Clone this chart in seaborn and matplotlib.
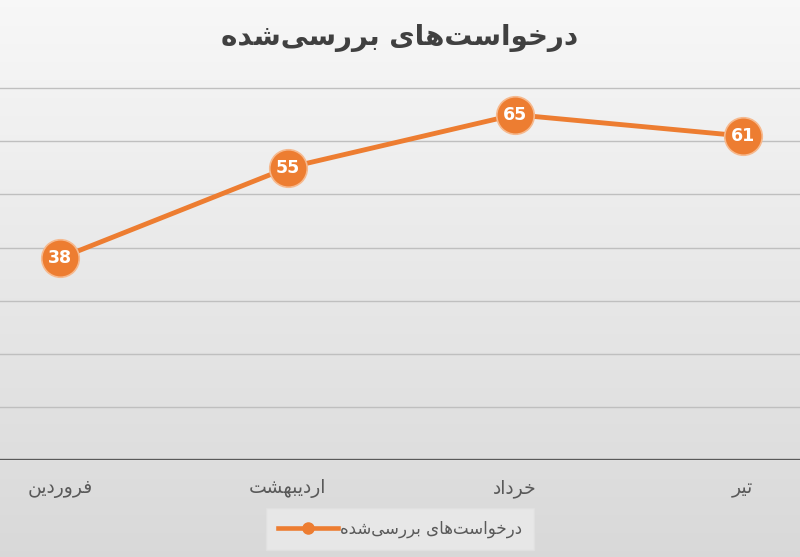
import numpy as np
import pandas as pd
import matplotlib
matplotlib.use("Agg")
import matplotlib.pyplot as plt
import seaborn as sns
from matplotlib.lines import Line2D

# ---- data ----
title_fa = "درخواست‌های بررسی‌شده"
series_name = "درخواست‌های بررسی‌شده"
months = ["فروردین", "اردیبهشت", "خرداد", "تیر"]
values = [38, 55, 65, 61]

# ---- minimal Persian shaping (presentation forms + visual order) ----
FORMS = {  # isolated, final, initial, medial
    "ا": ("\uFE8D", "\uFE8E", None, None),
    "ب": ("\uFE8F", "\uFE90", "\uFE91", "\uFE92"),
    "ت": ("\uFE95", "\uFE96", "\uFE97", "\uFE98"),
    "خ": ("\uFEA5", "\uFEA6", "\uFEA7", "\uFEA8"),
    "د": ("\uFEA9", "\uFEAA", None, None),
    "ر": ("\uFEAD", "\uFEAE", None, None),
    "س": ("\uFEB1", "\uFEB2", "\uFEB3", "\uFEB4"),
    "ش": ("\uFEB5", "\uFEB6", "\uFEB7", "\uFEB8"),
    "ف": ("\uFED1", "\uFED2", "\uFED3", "\uFED4"),
    "ن": ("\uFEE5", "\uFEE6", "\uFEE7", "\uFEE8"),
    "ه": ("\uFEE9", "\uFEEA", "\uFEEB", "\uFEEC"),
    "و": ("\uFEED", "\uFEEE", None, None),
    "ی": ("\uFBFC", "\uFBFD", "\uFBFE", "\uFBFF"),
}


def shape(text):
    chars = list(text)
    out = []
    for i, c in enumerate(chars):
        if c == "\u200c":
            continue
        if c not in FORMS:
            out.append(c)
            continue
        prev = chars[i - 1] if i > 0 else None
        nxt = chars[i + 1] if i + 1 < len(chars) else None
        jp = prev in FORMS and FORMS[prev][2] is not None
        jn = FORMS[c][2] is not None and nxt in FORMS
        iso, fin, ini, med = FORMS[c]
        if jp and jn:
            out.append(med)
        elif jp:
            out.append(fin)
        elif jn:
            out.append(ini)
        else:
            out.append(iso)
    return "".join(reversed(out))


df = pd.DataFrame({"month": [shape(m) for m in months], "value": values,
                   "x": np.arange(len(months))})

W, H = 800, 557
fig = plt.figure(figsize=(W / 100, H / 100), dpi=100)

# background gradient
bg = fig.add_axes([0, 0, 1, 1], zorder=-10)
grad = np.linspace(0.97, 0.85, 256).reshape(-1, 1)
grad = np.repeat(grad, 2, axis=1)
bg.imshow(np.dstack([grad, grad, grad]), aspect="auto", extent=[0, 1, 0, 1])
bg.set_axis_off()

bottom = (H - 460) / H
top = (H - 35) / H
ax = fig.add_axes([0, bottom, 1, top - bottom])
ax.patch.set_alpha(0)

orange = "#ED7D31"
sns.lineplot(data=df, x="x", y="value", ax=ax, color=orange, lw=3.5,
             marker="o", markersize=27, markerfacecolor=orange,
             markeredgecolor="#F6B98E", markeredgewidth=1.2,
             legend=False, clip_on=False, zorder=3)

for i, v in enumerate(values):
    ax.text(i, v, str(v), ha="center", va="center", color="white",
            fontsize=12.5, fontweight="bold", zorder=5)

ax.set_xlim(-60 / 227.5, (W - 60) / 227.5)
ax.set_ylim(0, 80)
ax.set_yticks(range(10, 80, 10))
ax.set_xticks(df["x"])
ax.set_xticklabels(df["month"], fontsize=13.5, color="#595959")
ax.tick_params(axis="x", length=0, pad=14)
ax.tick_params(axis="y", length=0, labelleft=False)
ax.grid(axis="y", color="#BFBFBF", lw=1)
ax.grid(axis="x", visible=False)
ax.set_axisbelow(True)
for s in ax.spines.values():
    s.set_visible(False)
ax.axhline(0, color="#595959", lw=2.4, zorder=2)
ax.set_xlabel("")
ax.set_ylabel("")

fig.text(0.5, 1 - 38 / H, shape(title_fa), ha="center", va="center",
         fontsize=20, fontweight="bold", color="#404040")

# legend
h = Line2D([], [], color=orange, lw=3.3, marker="o", markersize=8,
           markerfacecolor=orange, markeredgecolor=orange)
leg = fig.legend([h], [shape(series_name)], loc="center",
                 bbox_to_anchor=(0.5, 1 - 529 / H), markerfirst=True,
                 frameon=True, fancybox=False, fontsize=12,
                 handlelength=3.6, borderpad=0.7, handletextpad=0.1,
                 borderaxespad=0)
leg.get_frame().set_facecolor("#EBEBEB")
leg.get_frame().set_edgecolor("#E0E0E0")
for t in leg.get_texts():
    t.set_color("#595959")

fig.savefig("out.png", dpi=100)
